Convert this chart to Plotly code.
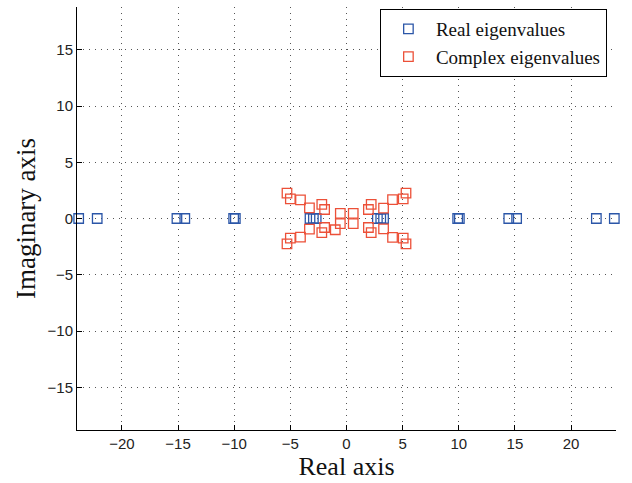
import plotly.graph_objects as go

# Eigenvalues lying on the real axis
real_re = [-23.85, -22.2, -15.1, -14.4, -10.05, -9.9, -3.25, -2.95, -2.7,
           2.75, 3.05, 3.3, 9.9, 10.05, 14.45, 15.15, 22.25, 23.85]
real_im = [0.0] * len(real_re)

# Complex eigenvalues (real and imaginary parts)
complex_re = [-5.3, -5.0, -4.1, -3.3, -2.2, -1.95, -0.55,
              -5.3, -5.0, -4.1, -3.3, -2.2, -1.95, -0.55, -1.0,
              5.3, 5.05, 4.1, 3.3, 2.2, 1.95, 0.6,
              5.3, 5.05, 4.1, 3.3, 2.2, 1.95, 0.6]
complex_im = [2.25, 1.75, 1.65, 0.95, 1.25, 0.8, 0.45,
              -2.25, -1.75, -1.65, -0.95, -1.25, -0.8, -0.45, -1.0,
              2.25, 1.75, 1.68, 0.93, 1.25, 0.8, 0.45,
              -2.25, -1.75, -1.68, -0.93, -1.25, -0.8, -0.45]

x_ticks = [-20, -15, -10, -5, 0, 5, 10, 15, 20]
y_ticks = [-15, -10, -5, 0, 5, 10, 15]

BLUE = "#2B56A8"
RED = "#EC5038"

fig = go.Figure()
fig.add_trace(go.Scatter(
    x=real_re, y=real_im, mode="markers", name="Real eigenvalues",
    cliponaxis=False,
    marker=dict(symbol="square-open", size=9.5, color=BLUE, line=dict(width=1.3)),
))
fig.add_trace(go.Scatter(
    x=complex_re, y=complex_im, mode="markers", name="Complex eigenvalues",
    cliponaxis=False,
    marker=dict(symbol="square-open", size=9.5, color=RED, line=dict(width=1.3)),
))

tick_font = dict(family="Liberation Sans, Arial, sans-serif", size=15, color="#222")
serif = "Liberation Serif, Times New Roman, serif"
axis_style = dict(showgrid=True, gridcolor="#555", gridwidth=1, griddash="1px,5px",
                  zeroline=False, showline=True, linecolor="black", linewidth=1,
                  ticks="inside", ticklen=5, tickcolor="black", tickfont=tick_font,
                  mirror=False)

fig.update_xaxes(range=[-24, 24], tickvals=x_ticks,
                 ticktext=[str(v).replace("-", "\u2212") for v in x_ticks],
                 title=dict(text="Real axis", font=dict(family=serif, size=26, color="#111"),
                            standoff=4),
                 **axis_style)
fig.update_yaxes(range=[-18.8, 18.8], tickvals=y_ticks,
                 ticktext=[str(v).replace("-", "\u2212") for v in y_ticks],
                 title=dict(text="Imaginary axis", font=dict(family=serif, size=27, color="#111"),
                            standoff=4),
                 **axis_style)

fig.update_layout(
    width=632, height=483,
    margin=dict(l=77, r=16, t=7, b=53),
    paper_bgcolor="white", plot_bgcolor="white",
    legend=dict(x=0.562, y=0.995, xanchor="left", yanchor="top",
                bgcolor="white", bordercolor="black", borderwidth=1,
                font=dict(family=serif, size=19, color="#111"),
                itemwidth=45, tracegroupgap=0),
    showlegend=True,
)

fig.write_html("out.html")
